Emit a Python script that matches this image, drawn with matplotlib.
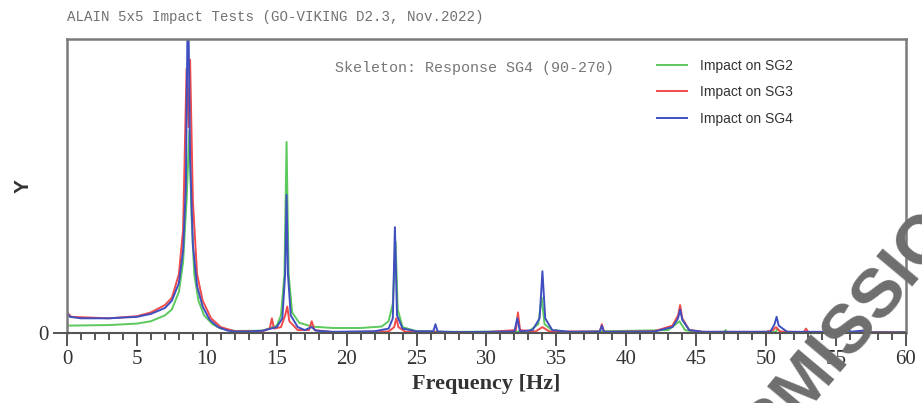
import numpy as np
import matplotlib.pyplot as plt
from matplotlib.ticker import MultipleLocator

# spectra read as (frequency, amplitude) pairs
f_sg2 = [0, 3, 5, 6, 7, 7.5, 8.0, 8.3, 8.55, 8.75, 8.9, 9.1, 9.4, 9.8, 10.4, 11, 12, 14, 15, 15.3,
         15.55, 15.7, 15.85, 16.1, 16.6, 17.5, 19, 21, 22.5, 23, 23.3, 23.5, 23.65, 24, 25, 27, 33,
         33.7, 33.95, 34.15, 34.8, 35, 35.2, 43, 43.8, 44.2, 45, 47, 47.1, 47.2, 50.7, 50.8, 51, 60]
y_sg2 = [0.025, 0.027, 0.032, 0.04, 0.06, 0.08, 0.14, 0.24, 0.45, 0.69, 0.4, 0.2, 0.11, 0.06, 0.03,
         0.015, 0.007, 0.008, 0.025, 0.06, 0.2, 0.65, 0.2, 0.07, 0.035, 0.022, 0.017, 0.017, 0.022,
         0.04, 0.1, 0.31, 0.08, 0.02, 0.006, 0.004, 0.005, 0.03, 0.12, 0.03, 0.005, 0.01, 0.003,
         0.01, 0.04, 0.01, 0.003, 0.003, 0.01, 0.003, 0.004, 0.015, 0.003, 0.003]

f_sg3 = [0, 0.3, 3, 5, 6, 7, 7.5, 8.0, 8.3, 8.55, 8.7, 8.8, 9.0, 9.3, 9.7, 10.3, 11, 12, 14, 14.5,
         14.65, 14.8, 15.3, 15.6, 15.75, 15.9, 16.5, 17.3, 17.5, 17.7, 19, 23, 23.4, 23.55, 23.7,
         24.2, 30, 32.1, 32.25, 32.4, 33.5, 34, 34.5, 38.1, 38.25, 38.4, 42, 43.3, 43.7, 43.85, 44.0,
         44.5, 45.5, 50, 50.5, 50.7, 51, 52.7, 52.85, 53, 55.7, 55.85, 56, 60]
y_sg3 = [0.07, 0.055, 0.05, 0.057, 0.07, 0.095, 0.12, 0.2, 0.35, 0.9, 0.7, 0.93, 0.45, 0.2, 0.11,
         0.05, 0.02, 0.006, 0.006, 0.015, 0.05, 0.015, 0.02, 0.06, 0.09, 0.04, 0.01, 0.01, 0.04,
         0.01, 0.003, 0.005, 0.02, 0.05, 0.02, 0.004, 0.003, 0.01, 0.07, 0.01, 0.005, 0.02, 0.005,
         0.005, 0.03, 0.004, 0.006, 0.025, 0.06, 0.095, 0.05, 0.01, 0.004, 0.004, 0.01, 0.02, 0.005,
         0.003, 0.015, 0.003, 0.004, 0.02, 0.003, 0.002]

f_sg4 = [0, 0.2, 1, 3, 5, 6, 7, 7.5, 8.0, 8.3, 8.5, 8.65, 8.8, 9.0, 9.3, 9.7, 10.2, 10.8, 11.5, 12,
         13, 14, 15, 15.4, 15.6, 15.7, 15.8, 16.0, 16.5, 17, 17.5, 17.8, 19, 22, 23, 23.3, 23.45,
         23.6, 24, 25, 26.2, 26.35, 26.5, 28, 32, 32.2, 32.4, 33.3, 33.8, 34.0, 34.2, 34.7, 36, 38.1,
         38.25, 38.4, 42, 43.3, 43.7, 43.85, 44.0, 44.5, 45.5, 50.3, 50.6, 50.75, 50.9, 51.5, 55.7,
         55.85, 56, 57.3, 57.5, 60]
y_sg4 = [0.07, 0.055, 0.05, 0.05, 0.055, 0.065, 0.085, 0.11, 0.17, 0.28, 0.5, 1.2, 0.6, 0.3, 0.16,
         0.09, 0.045, 0.02, 0.008, 0.005, 0.005, 0.008, 0.02, 0.05, 0.2, 0.47, 0.2, 0.06, 0.02, 0.01,
         0.02, 0.008, 0.004, 0.006, 0.015, 0.05, 0.36, 0.06, 0.015, 0.006, 0.006, 0.03, 0.005, 0.003,
         0.005, 0.05, 0.005, 0.01, 0.05, 0.21, 0.05, 0.01, 0.004, 0.005, 0.025, 0.004, 0.005, 0.02,
         0.05, 0.08, 0.045, 0.01, 0.004, 0.004, 0.03, 0.055, 0.025, 0.004, 0.004, 0.025, 0.004, 0.01,
         0.002, 0.002]

series = [("Impact on SG2", f_sg2, y_sg2, "#5cc95c"),
          ("Impact on SG3", f_sg3, y_sg3, "#f04a4a"),
          ("Impact on SG4", f_sg4, y_sg4, "#3f4fc0")]

fig = plt.figure(figsize=(9.22, 4.03), dpi=100)
ax = fig.add_axes([0.0727, 0.1737, 0.9099, 0.7295])

for name, f, y, c in series:
    ax.plot(f, y, color=c, lw=1.4, label=name, solid_joinstyle="round")

ax.set_xlim(0, 60)
ax.set_ylim(0, 1.0)

for side in ["left", "top", "right"]:
    ax.spines[side].set_color("#7a7a7a")
    ax.spines[side].set_linewidth(1.8)
ax.spines["bottom"].set_color("#555555")
ax.spines["bottom"].set_linewidth(1.5)

serif = "Liberation Serif"
ax.xaxis.set_major_locator(MultipleLocator(5))
ax.xaxis.set_minor_locator(MultipleLocator(1))
ax.tick_params(axis="x", which="major", length=9, width=1.4, color="#555555", direction="out")
ax.tick_params(axis="x", which="minor", length=5, width=1.4, color="#555555", direction="out")
ax.set_yticks([0])
ax.tick_params(axis="y", length=10, width=1.4, color="#555555", direction="out")
for lab in ax.get_xticklabels() + ax.get_yticklabels():
    lab.set_fontfamily(serif)
    lab.set_fontsize(15)
    lab.set_color("#333333")

ax.set_xlabel("Frequency [Hz]", fontfamily=serif, fontsize=16, fontweight="bold", color="#333333",
              labelpad=3)
ax.set_ylabel("Y", fontfamily="Liberation Sans", fontsize=15, fontweight="bold", color="#333333")
ax.yaxis.set_label_coords(-0.041, 0.5)

fig.text(0.0727, 0.957, "ALAIN 5x5 Impact Tests (GO-VIKING D2.3, Nov.2022)",
         fontfamily="Liberation Mono", fontsize=10.2, color="#707070", va="center")
ax.text(0.32, 0.9, "Skeleton: Response SG4 (90-270)", transform=ax.transAxes,
        fontfamily="Liberation Mono", fontsize=10.8, color="#777777", va="center")

leg = ax.legend(loc="upper left", bbox_to_anchor=(0.688, 0.975), frameon=False,
                prop={"family": "Liberation Sans", "size": 10}, handlelength=2.2,
                labelspacing=0.9, handletextpad=0.95)
for t in leg.get_texts():
    t.set_color("#333333")

fig.text(0.905, 0.14, "PERMISSION", rotation=50, ha="center", va="center",
         fontfamily="Liberation Sans", fontweight="bold", fontsize=50, color="#6e6e6e",
         rotation_mode="anchor", zorder=10)

fig.savefig("out.png", dpi=100)
